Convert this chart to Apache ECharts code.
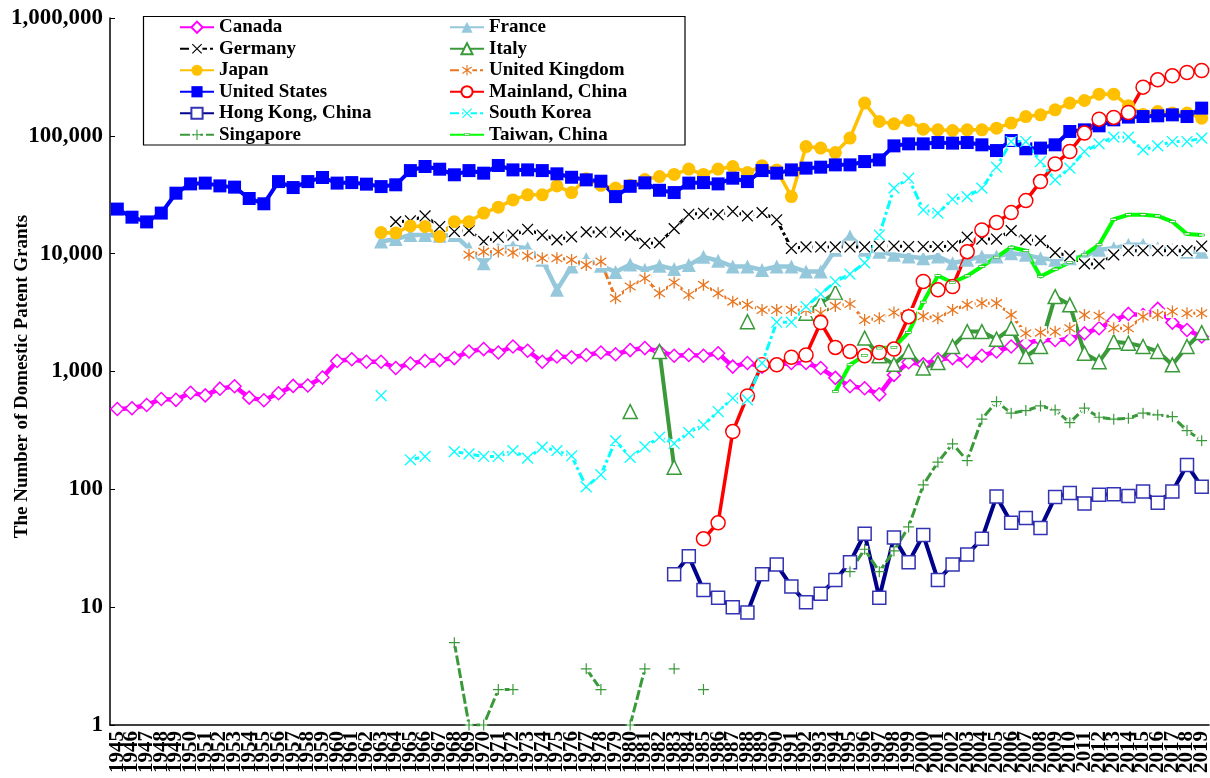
<!DOCTYPE html>
<html>
<head>
<meta charset="utf-8">
<title>Domestic Patent Grants, 1945-2019</title>
<script src="https://cdn.jsdelivr.net/npm/echarts@6/dist/echarts.min.js"></script>
<style>
  html, body { margin: 0; padding: 0; background: #fff; }
  #chart { width: 1210px; height: 778px; }
</style>
</head>
<body>
<div id="chart"></div>
<script>
// ---- categories and tick values ----
const firstYear = 1945;
const lastYear = 2019;
const years = [];
for (let y = firstYear; y <= lastYear; y++) years.push(String(y));
const yTicks = [1, 10, 100, 1000, 10000, 100000, 1000000];

// ---- series values (domestic patent grants per year) ----
const canadaFrom = 1945;
const canada = [481, 488, 520, 585, 575, 660, 627, 715, 750, 600, 570, 654, 755, 760, 888,
  1230, 1270, 1210, 1210, 1070, 1170, 1230, 1250, 1300, 1480, 1550, 1450, 1630, 1500, 1210,
  1340, 1320, 1380, 1450, 1400, 1520, 1580, 1480, 1360, 1380, 1360, 1430, 1100, 1180, 1100,
  1140, 1180, 1180, 1070, 883, 750, 721, 640, 936, 1200, 1150, 1270, 1300, 1230, 1360,
  1480, 1630, 1740, 1850, 1850, 1880, 2110, 2330, 2710, 3080, 3020, 3400, 2600, 2250, 1980];

const franceFrom = 1963;
const france = [12700, 13300, 14400, 14400, 14200, 14400, 11100, 8300, 11100, 11500,
  11100, 8860, 4930, 7780, 9000, 7900, 7000, 8100, 7300, 7900, 7400, 8000, 9400, 8700, 7780,
  7780, 7280, 7780, 7780, 7050, 7050, 10800, 14000, 10800, 10400, 9770, 9460, 9160, 9460, 8300,
  8860, 9460, 9460, 10100, 9770, 9160, 8860, 9160, 9460, 10800, 11100, 11900, 11900, 11100,
  10800, 10400, 10400];

const germanyFrom = 1964;
const germany = [18700, 19000, 20900, 17000, 15400, 15700, 12700, 13800, 14400, 16100,
  14400, 13100, 13900, 15300, 15200, 15200, 14300, 12200, 12400, 16300, 21600, 22000, 21400,
  22800, 20900, 22300, 19400, 11100, 11400, 11400, 11400, 11400, 11400, 11600, 11600, 11500,
  11500, 11500, 11600, 13800, 13300, 13300, 15700, 13100, 12900, 10200, 9580, 8190, 8190,
  9770, 10600, 10600, 10600, 10600, 10600, 11600];

const italyFrom = 1980;
const italy = [457, null, 1480, 154, null, null, null, null, 2650, null, null, null, 3120,
  3800, 4680, null, 1920, 1360, 1150, 1480, 1070, 1190, 1630, 2180, 2180, 1880, 2330, 1340,
  1630, 4320, 3680, 1430, 1210, 1790, 1740, 1630, 1480, 1140, 1630, 2140];

const japanFrom = 1963;
const japan = [15100, 15000, 17200, 17000, 14000, 18700, 18700, 22100, 24800, 28600,
  31600, 31600, 37600, 33000, 43300, 38000, 36000, 38000, 42600, 45100, 47000, 52200, 47000,
  52200, 54900, 48800, 55600, 51400, 30500, 81100, 78700, 72100, 95700, 189600, 132300,
  126400, 134900, 114000, 112400, 111000, 112400, 112400, 116200, 128200, 145800, 150700,
  166300, 189600, 199500, 225900, 225900, 179800, 152000, 160800, 155900, 155900, 141300];

const ukFrom = 1969;
const uk = [9770, 10400, 10400, 10200, 9580, 9160, 9160, 8860, 8000, 8570, 4190, 5260,
  6190, 4620, 5690, 4470, 5430, 4620, 3920, 3680, 3330, 3330, 3330, 3330, 3120, 3600, 3740,
  2740, 2830, 3170, 3070, 2950, 2830, 3330, 3680, 3800, 3800, 3020, 2110, 2140, 2180, 2330,
  3020, 2970, 2330, 2330, 2920, 3020, 3230, 3120, 3120];

const usFrom = 1945;
const us = [23900, 20400, 18600, 22100, 32600, 39100, 39700, 37600, 36700, 29400, 26500,
  40900, 36400, 40900, 44300, 39700, 40100, 38900, 37100, 38400, 50700, 54900, 52100, 46700,
  50700, 48200, 56000, 51400, 51400, 50700, 47600, 44500, 42300, 41200, 30500, 37300, 39900,
  34500, 33000, 39700, 40100, 39100, 43700, 40900, 50700, 48200, 51400, 53200, 54200, 56700,
  56700, 60500, 62500, 82200, 85500, 85500, 87700, 86700, 87700, 83900, 75000, 91200, 77600,
  78700, 83900, 108900, 112400, 121600, 136700, 144200, 145800, 147900, 150700, 145800, 171800];

const mainlandFrom = 1985;
const mainland = [38, 52, 309, 620, 1140, 1140, 1320, 1380, 2600, 1600, 1480, 1360, 1450,
  1550, 2920, 5800, 4930, 5260, 10400, 15900, 18400, 22300, 28200, 40900, 57800, 73600,
  105500, 138600, 143300, 157700, 259000, 298800, 323000, 344700, 358400];

const hongKongFrom = 1983;
const hongKong = [19, 27, 14, 12, 10, 9, 19, 23, 15, 11, 13, 17, 24, 42, 12, 39, 24, 41,
  17, 23, 28, 38, 87, 52, 57, 47, 86, 93, 76, 90, 91, 88, 96, 77, 96, 161, 105];

const koreaFrom = 1963;
const korea = [625, null, 178, 190, null, 209, 200, 190, 190, 213, 184, 228, 213, 192,
  105, 133, 259, 187, 230, 277, 245, 303, 352, 457, 593, 574, 1180, 2620, 2620, 3560, 4540,
  5800, 6700, 8350, 14400, 36000, 43700, 23500, 22100, 29000, 30500, 36000, 54200, 89500,
  89500, 60500, 42300, 53200, 73600, 85500, 97500, 97500, 76000, 82200, 89500, 89500, 95700];

const singaporeFrom = 1968;
const singapore = [5, 1, 1, 2, 2, null, null, null, null, 3, 2, null, 1, 3, null, 3, null,
  2, null, null, null, null, null, null, null, null, null, 20, 31, 20, 30, 48, 109, 170, 243,
  175, 394, 555, 443, 466, 510, 472, 368, 488, 409, 394, 401, 443, 428, 414, 315, 259];

const taiwanFrom = 1994;
const taiwan = [675, 1140, 1370, 1580, 1600, 2150, 3880, 6500, 5690, 6480, 7780, 9340,
  11350, 10600, 6400, 7390, 8410, 9770, 11900, 19600, 21400, 21400, 20900, 18700, 14700, 14400];

// Align a run of yearly values that starts at `from` with the year axis.
function alignToYears(from, values) {
  const out = years.map(() => null);
  values.forEach((v, i) => { out[from - firstYear + i] = v; });
  return out;
}

function svgSymbol(body) {
  const svg = '<svg xmlns="http://www.w3.org/2000/svg" width="48" height="48" viewBox="0 0 24 24">' + body + '</svg>';
  return 'image://data:image/svg+xml;charset=utf-8,' + encodeURIComponent(svg);
}

// Stroke-drawn markers (x, asterisk, plus) on a white pad so the line stops at the mark.
function strokeMark(kind, color, pad) {
  const paths = {
    x: 'M2 2L22 22M22 2L2 22',
    star: 'M12 1V23M2 5L22 19M22 5L2 19',
    plus: 'M12 1V23M1 12H23'
  };
  return svgSymbol(
    '<rect x="' + pad + '" y="' + pad + '" width="' + (24 - 2 * pad) + '" height="' + (24 - 2 * pad) + '" fill="#ffffff"/>' +
    '<path d="' + paths[kind] + '" stroke="' + color + '" stroke-width="2.4" fill="none"/>');
}

// Small flat dash used on the Taiwan line.
const dashMark = svgSymbol('<rect x="6" y="10" width="12" height="4" fill="#ffffff" stroke="#00b000" stroke-width="1.2"/>');

const serif = "'Liberation Serif', 'Times New Roman', serif";

function series(name, from, values, o) {
  return {
    name: name,
    type: 'line',
    data: alignToYears(from, values),
    connectNulls: false,
    showSymbol: true,
    showAllSymbol: true,
    symbol: o.symbol,
    symbolSize: o.size,
    lineStyle: { color: o.line, width: o.width, type: o.dash || 'solid', cap: 'butt', join: 'round' },
    itemStyle: { color: o.fill, borderColor: o.border || o.line, borderWidth: o.borderWidth || 0 },
    emphasis: { disabled: true },
    silent: true,
    animation: false
  };
}

const seriesList = [
  series('Canada', canadaFrom, canada,
    { symbol: 'diamond', size: 13, line: '#ff00ff', width: 4.5, fill: '#ffffff', borderWidth: 1.5 }),
  series('France', franceFrom, france,
    { symbol: 'triangle', size: 14, line: '#96c8dc', width: 4.5, fill: '#96c8dc' }),
  series('Germany', germanyFrom, germany,
    { symbol: strokeMark('x', '#000000', 0), size: 13, line: '#000000', width: 3, fill: '#000000', dash: [9, 3, 3, 3] }),
  series('Italy', italyFrom, italy,
    { symbol: 'triangle', size: 14, line: '#3a9a3a', width: 4, fill: '#ffffff', border: '#3a9a3a', borderWidth: 1.5 }),
  series('Japan', japanFrom, japan,
    { symbol: 'circle', size: 13, line: '#ffc000', width: 3.5, fill: '#ffc000' }),
  series('United Kingdom', ukFrom, uk,
    { symbol: strokeMark('star', '#e87722', 0), size: 13, line: '#e87722', width: 3, fill: '#e87722', dash: [9, 3, 3, 3] }),
  series('United States', usFrom, us,
    { symbol: 'rect', size: 13, line: '#0000ff', width: 4, fill: '#0000ff' }),
  series('Mainland, China', mainlandFrom, mainland,
    { symbol: 'circle', size: 14, line: '#ff0000', width: 3.5, fill: '#ffffff', border: '#ff0000', borderWidth: 1.5 }),
  series('Hong Kong, China', hongKongFrom, hongKong,
    { symbol: 'rect', size: 13, line: '#00008b', width: 4, fill: '#ffffff', border: '#3333b3', borderWidth: 1.5 }),
  series('South Korea', koreaFrom, korea,
    { symbol: strokeMark('x', '#00ffff', 4), size: 13, line: '#00ffff', width: 3, fill: '#00ffff', dash: [9, 3, 3, 3] }),
  series('Singapore', singaporeFrom, singapore,
    { symbol: strokeMark('plus', '#3a9a3a', 5), size: 12, line: '#3a9a3a', width: 3, fill: '#3a9a3a', dash: [10, 3] }),
  series('Taiwan, China', taiwanFrom, taiwan,
    { symbol: dashMark, size: 12, line: '#00ff00', width: 4, fill: '#00ff00' })
];

const legendText = { fontFamily: serif, fontWeight: 'bold', fontSize: 19, color: '#000', lineHeight: 21.5 };
const legendBase = {
  orient: 'vertical', top: 16.5, padding: 0, itemGap: 0,
  itemWidth: 34, itemHeight: 14, textStyle: legendText,
  selectedMode: false, z: 10
};

const chart = echarts.init(document.getElementById('chart'), null, { renderer: 'canvas' });
chart.setOption({
  backgroundColor: '#ffffff',
  animation: false,
  grid: { left: 110, right: 1, top: 18, bottom: 53, containLabel: false, outerBoundsMode: 'none' },
  graphic: [{
    type: 'rect', z: 9,
    shape: { x: 143.5, y: 16.5, width: 541.5, height: 128.5 },
    style: { fill: '#ffffff', stroke: '#000000', lineWidth: 1.2 }
  }],
  legend: [
    Object.assign({}, legendBase, {
      left: 179,
      data: ['Canada', 'Germany', 'Japan', 'United States', 'Hong Kong, China', 'Singapore']
    }),
    Object.assign({}, legendBase, {
      left: 449,
      data: ['France', 'Italy', 'United Kingdom', 'Mainland, China', 'South Korea', 'Taiwan, China']
    })
  ],
  xAxis: {
    type: 'category',
    data: years,
    boundaryGap: true,
    axisLine: { lineStyle: { color: '#000', width: 1.5 } },
    axisTick: { inside: true, length: 5, interval: 0, lineStyle: { color: '#000', width: 1 } },
    axisLabel: {
      interval: 0, rotate: 90, margin: 6, hideOverlap: false,
      fontFamily: serif, fontWeight: 'bold', fontSize: 21, color: '#000'
    },
    splitLine: { show: false }
  },
  yAxis: {
    type: 'log',
    logBase: 10,
    min: yTicks[0],
    max: yTicks[yTicks.length - 1],
    name: 'The Number of Domestic Patent Grants',
    nameLocation: 'middle',
    nameGap: 78,
    nameMoveOverlap: false,
    nameTextStyle: { fontFamily: serif, fontWeight: 'bold', fontSize: 19, color: '#000', padding: [0, 10, 0, 0] },
    axisLine: { show: true, lineStyle: { color: '#000', width: 1.5 } },
    axisTick: { show: true, inside: true, length: 5, lineStyle: { color: '#000', width: 1 } },
    axisLabel: {
      margin: 7,
      fontFamily: serif, fontWeight: 'bold', fontSize: 23, color: '#000',
      formatter: v => Number(v).toLocaleString('en-US')
    },
    splitLine: { show: false }
  },
  series: seriesList
});
</script>
</body>
</html>
